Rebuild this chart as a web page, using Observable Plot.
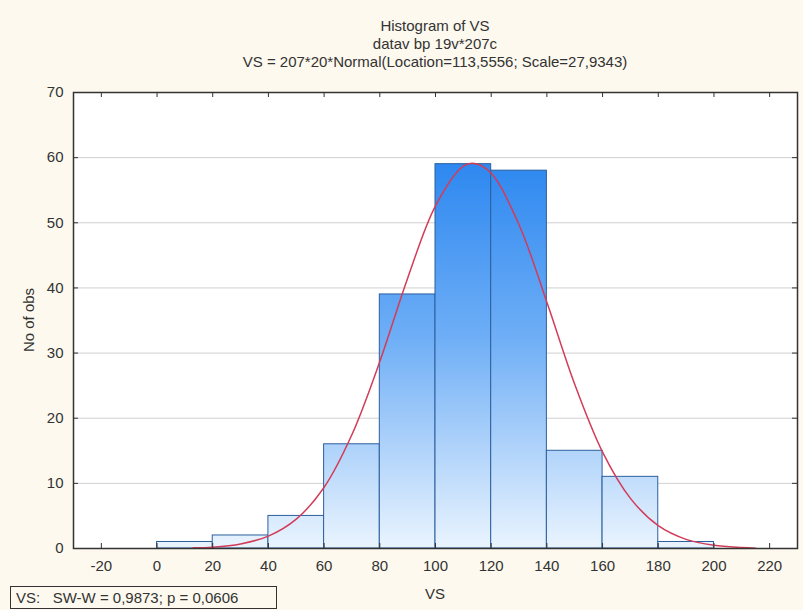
<!DOCTYPE html>
<html>
<head>
<meta charset="utf-8">
<script src="https://cdn.jsdelivr.net/npm/d3@7"></script>
<script src="https://cdn.jsdelivr.net/npm/@observablehq/plot@0.6"></script>
<style>
  html, body { margin: 0; padding: 0; background: #fdf9ee; }
  #wrap { position: relative; width: 803px; height: 610px; font-family: "Liberation Sans", Arial, sans-serif; color: #333; }
  .t { position: absolute; left: 0; width: 870px; text-align: center; font-size: 15px; line-height: 18px; }
  #ylab { position: absolute; left: 28px; top: 320px; transform: translate(-50%, -50%) rotate(-90deg); font-size: 15px; white-space: nowrap; }
  #xlab { position: absolute; left: 435px; top: 585px; transform: translateX(-50%); font-size: 15px; }
  #stat { position: absolute; left: 10px; top: 586px; border: 1px solid #333; font-size: 15px; line-height: 21px; padding-left: 5px; box-sizing: border-box; width: 267px; height: 23px; white-space: pre; }
  svg { position: absolute; left: 0; top: 0; }
</style>
</head>
<body>
<div id="wrap">
  <div class="t" style="top:17px">Histogram of VS</div>
  <div class="t" style="top:35px">datav bp 19v*207c</div>
  <div class="t" style="top:53px">VS = 207*20*Normal(Location=113,5556; Scale=27,9343)</div>
  <div id="ylab">No of obs</div>
  <div id="xlab">VS</div>
  <div id="stat">VS:   SW-W = 0,9873; p = 0,0606</div>
</div>
<script>
// Histogram bins (left edge, right edge) and counts
const binStart = [0, 20, 40, 60, 80, 100, 120, 140, 160, 180];
const binEnd   = [20, 40, 60, 80, 100, 120, 140, 160, 180, 200];
const counts   = [1, 2, 5, 16, 39, 59, 58, 15, 11, 1];

// Fitted normal curve
const curveX = [13, 20, 30, 40, 50, 60, 70, 80, 90, 100, 110, 114, 120, 130, 140, 150, 160, 170, 180, 190, 200, 210, 215];
const curveY = [0.1, 0.2, 0.7, 1.9, 4.5, 9.4, 17.5, 28.7, 41.5, 52.6, 58.7, 59.1, 57.6, 49.7, 37.8, 25.2, 14.8, 7.7, 3.5, 1.4, 0.5, 0.15, 0.05];

const xTicks = [-20, 0, 20, 40, 60, 80, 100, 120, 140, 160, 180, 200, 220];
const yTicks = [0, 10, 20, 30, 40, 50, 60, 70];
const gridTicks = [10, 20, 30, 40, 50, 60];

const bins = binStart.map((s, i) => ({x1: s, x2: binEnd[i], count: counts[i]}));
const curve = curveX.map((x, i) => ({x, y: curveY[i]}));

const W = 803, H = 610, mT = 92, mB = 62, mL = 73, mR = 6;
const pw = W - mL - mR, ph = H - mT - mB;

const chart = Plot.plot({
  width: W, height: H,
  marginTop: mT, marginBottom: mB, marginLeft: mL, marginRight: mR,
  style: {background: "transparent", fontFamily: "'Liberation Sans', Arial, sans-serif", fontSize: "15px", color: "#333"},
  x: {domain: [-30, 230]},
  y: {domain: [0, 70]},
  marks: [
    Plot.frame({fill: "white", stroke: "none"}),
    Plot.gridY(gridTicks, {stroke: "#d0d0d0", strokeOpacity: 1}),
    Plot.rectY(bins, {x1: "x1", x2: "x2", y: "count", inset: 0, fill: "url(#barGrad)", stroke: "#2c5f9e", strokeWidth: 1}),
    Plot.line(curve, {x: "x", y: "y", stroke: "#d23c58", strokeWidth: 1.5, curve: "catmull-rom"}),
    Plot.ruleX(xTicks, {insetTop: ph - 5, stroke: "#333"}),
    Plot.ruleX(xTicks, {insetBottom: ph - 5, stroke: "#333"}),
    Plot.ruleY(yTicks, {insetRight: pw - 5, stroke: "#333"}),
    Plot.ruleY(yTicks, {insetLeft: pw - 5, stroke: "#333"}),
    Plot.frame({stroke: "#333", strokeWidth: 1.5}),
    Plot.axisX(xTicks, {tickSize: 0, tickPadding: 12, label: null, fontSize: 15, tickFormat: d => String(d)}),
    Plot.axisY(yTicks, {tickSize: 0, tickPadding: 10, label: null, fontSize: 15, tickFormat: d => String(d)})
  ]
});

const ys = chart.scale("y");
const defs = d3.select(chart).insert("defs", ":first-child");
const g = defs.append("linearGradient")
  .attr("id", "barGrad")
  .attr("gradientUnits", "userSpaceOnUse")
  .attr("x1", 0).attr("x2", 0)
  .attr("y1", ys.apply(59)).attr("y2", ys.apply(0));
g.append("stop").attr("offset", "0%").attr("stop-color", "#2e88f0");
g.append("stop").attr("offset", "45%").attr("stop-color", "#6eaef6");
g.append("stop").attr("offset", "100%").attr("stop-color", "#eaf4fe");

document.getElementById("wrap").appendChild(chart);
</script>
</body>
</html>
